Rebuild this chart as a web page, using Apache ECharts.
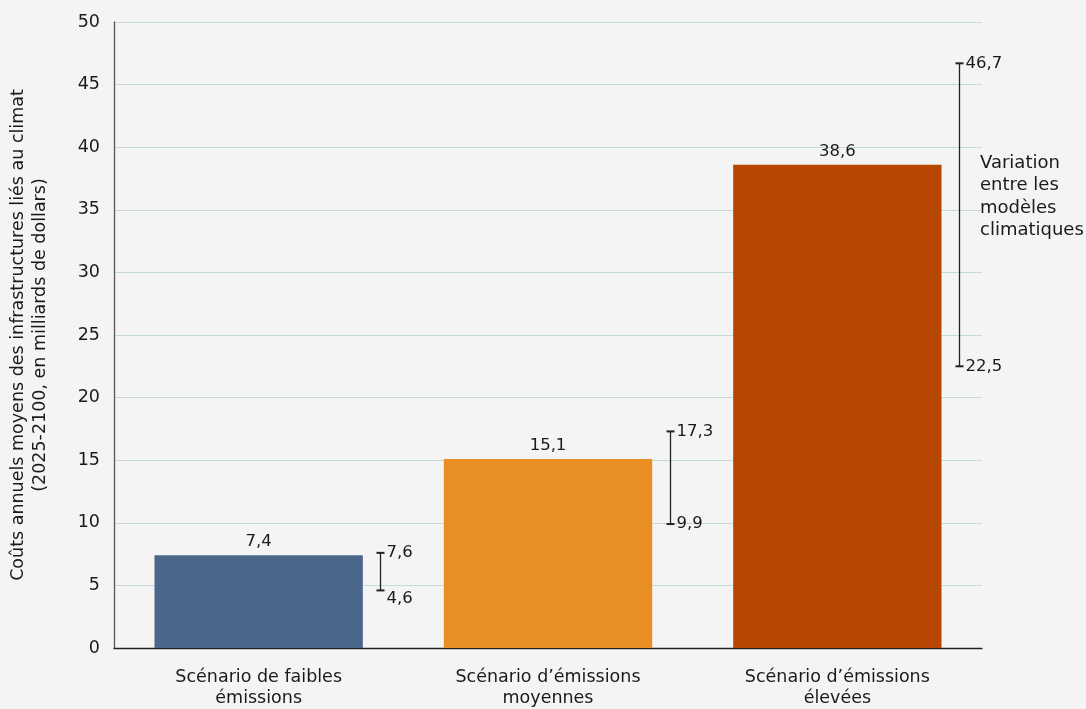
<!DOCTYPE html>
<html lang="fr">
<head>
<meta charset="utf-8">
<title>Coûts annuels moyens des infrastructures liés au climat</title>
<script src="https://cdn.jsdelivr.net/npm/echarts@6/dist/echarts.min.js"></script>
<style>
  html, body { margin: 0; padding: 0; background: #f3f4f3; }
  #chart { width: 1086px; height: 709px; }
</style>
</head>
<body>
<div id="chart"></div>
<script>
// Scenarios and mean annual costs (billions of dollars, 2025-2100)
const categories = [
  'Scénario de faibles\némissions',
  'Scénario d\u2019émissions\nmoyennes',
  'Scénario d\u2019émissions\nélevées'
];
const meanCost = [7.4, 15.1, 38.6];
// Range across climate models
const rangeLow = [4.6, 9.9, 22.5];
const rangeHigh = [7.6, 17.3, 46.7];
const barColors = ['#4a668b', '#e98e23', '#b64600'];
const yTicks = { min: 0, max: 50, interval: 5 };
const rangeNote = 'Variation\nentre les\nmodèles\nclimatiques';

const FONT = '"DejaVu Sans", Verdana, sans-serif';
const fmt = v => String(v).replace('.', ',');

const chart = echarts.init(document.getElementById('chart'), null, { renderer: 'canvas' });

const rangeData = categories.map((c, i) => [i, rangeLow[i], rangeHigh[i]]);

function renderRange(params, api) {
  const idx = api.value(0);
  const lo = api.value(1);
  const hi = api.value(2);
  const band = api.size([1, 0])[0];
  const top = api.coord([idx, hi]);
  const bot = api.coord([idx, lo]);
  const x = Math.round(top[0] + band * 0.42) + 0.5;
  const cap = 4;
  const lineStyle = { stroke: '#222', lineWidth: 1.3 };
  const capStyle = { stroke: '#222', lineWidth: 2 };
  // Push the lower label down when the range is too short to keep both legible
  const tight = (bot[1] - top[1]) < 40;
  const label = (txt, y) => ({
    type: 'text',
    style: {
      text: txt,
      x: x + cap + 2,
      y: y,
      fill: '#1a1a1a',
      font: '16.5px ' + FONT,
      textAlign: 'left',
      textVerticalAlign: 'middle'
    }
  });
  return {
    type: 'group',
    children: [
      { type: 'line', shape: { x1: x, y1: top[1], x2: x, y2: bot[1] }, style: lineStyle },
      { type: 'line', shape: { x1: x - cap, y1: top[1], x2: x + cap, y2: top[1] }, style: capStyle },
      { type: 'line', shape: { x1: x - cap, y1: bot[1], x2: x + cap, y2: bot[1] }, style: capStyle },
      label(fmt(hi), top[1]),
      label(fmt(lo), bot[1] + (tight ? 8 : 0))
    ]
  };
}

const option = {
  backgroundColor: '#f3f4f3',
  animation: false,
  textStyle: { fontFamily: FONT },
  grid: { left: 114, right: 104, top: 22, bottom: 61, containLabel: false, outerBoundsMode: 'none' },
  xAxis: {
    type: 'category',
    data: categories,
    axisLine: { lineStyle: { color: '#222', width: 1.3 } },
    axisTick: { show: false },
    axisLabel: {
      color: '#1a1a1a', fontSize: 17.5, lineHeight: 21, margin: 19, interval: 0,
      fontFamily: FONT
    }
  },
  yAxis: {
    type: 'value',
    min: yTicks.min, max: yTicks.max, interval: yTicks.interval,
    name: 'Coûts annuels moyens des infrastructures liés au climat\n(2025-2100, en milliards de dollars)',
    nameLocation: 'middle',
    nameGap: 63,
    nameTextStyle: { color: '#1a1a1a', fontSize: 17.5, lineHeight: 22, fontFamily: FONT },
    axisLine: { show: true, lineStyle: { color: '#555', width: 1.3 } },
    axisTick: { show: false },
    axisLabel: { color: '#1a1a1a', fontSize: 17.5, margin: 14, fontFamily: FONT },
    splitLine: { lineStyle: { color: '#c6d9dc', width: 1 } }
  },
  series: [
    {
      type: 'bar',
      barWidth: '72%',
      data: meanCost.map((v, i) => ({ value: v, itemStyle: { color: barColors[i] } })),
      label: {
        show: true, position: 'top', distance: 5,
        color: '#1a1a1a', fontSize: 16.5, fontFamily: FONT,
        formatter: p => fmt(p.value)
      },
      z: 2
    },
    {
      type: 'custom',
      renderItem: renderRange,
      data: rangeData,
      encode: { x: 0, y: [1, 2] },
      z: 3
    }
  ],
  graphic: [
    {
      type: 'text',
      left: 980,
      top: 152,
      style: {
        text: rangeNote,
        fill: '#1a1a1a',
        font: '18px ' + FONT,
        lineHeight: 22.5
      }
    }
  ]
};

chart.setOption(option);
</script>
</body>
</html>
